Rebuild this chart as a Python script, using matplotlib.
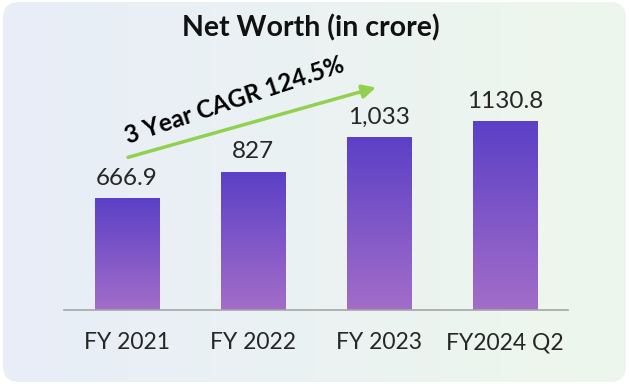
# Net Worth bar chart (in crore) with CAGR arrow

import numpy as np
import matplotlib
matplotlib.use('Agg')
import matplotlib.pyplot as plt
from matplotlib.colors import LinearSegmentedColormap
from matplotlib.patches import FancyBboxPatch

# --------------------------- DATA ---------------------------
years = ['FY 2021', 'FY 2022', 'FY 2023', 'FY2024 Q2']
net_worth = [666.9, 827, 1033, 1130.8]
value_labels = ['666.9', '827', '1,033', '1130.8']
cagr_text = '3 Year CAGR 124.5%'

plt.rcParams['font.family'] = ['Lato', 'DejaVu Sans']

W, H = 629, 384
fig = plt.figure(figsize=(W / 100, H / 100), dpi=100)

# --------------------------- BACKGROUND (rounded card, gradient) ----------
bg = fig.add_axes([0, 0, 1, 1])
bg.set_xlim(0, W)
bg.set_ylim(0, H)
bg.axis('off')
bg_cmap = LinearSegmentedColormap.from_list('bg', ['#e8edf8', '#eef7ec'])
grad = np.linspace(0, 1, 256).reshape(1, -1)
im = bg.imshow(grad, cmap=bg_cmap, extent=[0, W, 0, H], aspect='auto')
card = FancyBboxPatch((3, 2), W - 6, H - 4, boxstyle='round,pad=0,rounding_size=16',
                      facecolor='none', edgecolor='none')
bg.add_patch(card)
im.set_clip_path(card)

# --------------------------- BARS ---------------------------
ax = fig.add_axes([64 / W, 74 / H, 504 / W, 250 / H])
ax.patch.set_alpha(0)

bar_cmap = LinearSegmentedColormap.from_list('bar', ['#a36dc9', '#5b40c6'])
bar_w = 0.51
x = np.arange(len(years))
for xi, v, lab in zip(x, net_worth, value_labels):
    g = np.linspace(0, 1, 200).reshape(-1, 1)
    ax.imshow(g, cmap=bar_cmap, origin='lower', aspect='auto',
              extent=[xi - bar_w / 2, xi + bar_w / 2, 0, v], zorder=2)
    ax.annotate(lab, (xi, v), xytext=(0, 7), textcoords='offset points',
                ha='center', va='bottom', fontsize=17.5, color='#262626')

ax.set_xlim(-0.5, len(years) - 0.5)
ax.set_ylim(0, 1500)
ax.set_xticks(x)
ax.set_xticklabels(years, fontsize=16.5, color='#262626')
ax.tick_params(axis='x', length=0, pad=16)
ax.set_yticks([])
for s in ['top', 'right', 'left']:
    ax.spines[s].set_visible(False)
ax.spines['bottom'].set_color('#a6a6a6')
ax.spines['bottom'].set_linewidth(1.2)

# --------------------------- CAGR ARROW ---------------------------
ax.annotate('', xy=(1.976, 1335), xytext=(0.008, 916),
            arrowprops=dict(arrowstyle='-|>', color='#92d050', lw=2.5,
                            mutation_scale=20, shrinkA=0, shrinkB=0),
            annotation_clip=False)
ax.text(0.85, 1255, cagr_text, rotation=18.5, ha='center', va='center',
        fontsize=17.5, fontweight='bold', color='black', rotation_mode='anchor')

# --------------------------- TITLE ---------------------------
fig.text(311 / W, 1 - 28 / H, 'Net Worth (in crore)', ha='center', va='center',
         fontsize=20.5, fontweight='bold', color='#111111')

fig.savefig('out.png', dpi=100)
